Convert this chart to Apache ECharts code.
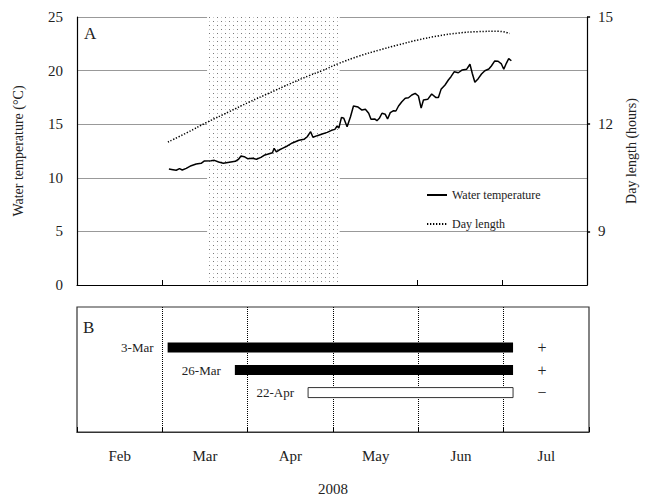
<!DOCTYPE html>
<html>
<head>
<meta charset="utf-8">
<script src="https://cdn.jsdelivr.net/npm/echarts@6/dist/echarts.min.js"></script>
<style>html,body{margin:0;padding:0;background:#fff}#c{width:646px;height:497px}</style>
</head>
<body>
<div id="c"></div>
<script>
// x positions are in months since 1 Feb 2008 (0 = 1 Feb, 1 = 1 Mar, ...)
const months = ['Feb', 'Mar', 'Apr', 'May', 'Jun', 'Jul'];
const leftTicks = [0, 5, 10, 15, 20, 25];
const rightTicks = [9, 12, 15];

const tempX = [1.081,1.128,1.167,1.206,1.238,1.285,1.343,1.402,1.460,1.499,1.577,1.616,1.666,1.721,1.792,1.862,1.900,1.929,1.967,2.006,2.064,2.111,2.163,2.201,2.240,2.299,2.319,2.345,2.377,2.416,2.474,2.533,2.611,2.670,2.708,2.748,2.775,2.826,2.884,2.943,2.994,3.033,3.060,3.080,3.111,3.138,3.177,3.217,3.252,3.306,3.352,3.392,3.431,3.458,3.501,3.528,3.556,3.587,3.626,3.653,3.685,3.724,3.751,3.782,3.821,3.861,3.899,3.938,3.978,4.016,4.048,4.075,4.125,4.172,4.219,4.251,4.282,4.329,4.368,4.399,4.438,4.485,4.532,4.582,4.622,4.649,4.680,4.719,4.758,4.797,4.844,4.874,4.914,4.953,4.992,5.020,5.050,5.078,5.109];
const tempY = [10.82,10.76,10.70,10.85,10.73,10.88,11.13,11.29,11.35,11.57,11.60,11.63,11.47,11.35,11.45,11.54,11.73,12.03,11.97,11.78,11.82,11.73,11.91,12.10,12.19,12.34,12.75,12.41,12.59,12.75,12.97,13.25,13.50,13.59,13.83,14.30,13.78,13.93,14.09,14.24,14.43,14.52,14.83,14.65,15.64,15.55,14.77,15.70,16.70,16.60,16.32,16.39,16.02,15.46,15.49,15.33,15.55,16.02,15.92,15.49,16.08,16.26,16.23,16.70,17.10,17.42,17.47,17.72,17.88,17.63,16.50,17.26,17.32,17.82,17.50,17.50,18.25,18.66,19.12,19.43,19.90,19.80,20.06,20.12,20.59,19.75,18.91,19.25,19.68,19.99,20.15,20.43,20.90,20.87,20.62,20.12,20.68,21.11,20.92];

const dayX = [1.069,1.30,1.526,1.79,2.026,2.26,2.494,2.73,2.884,3.08,3.31,3.548,3.78,4.016,4.25,4.485,4.72,4.95,5.09];
const dayY = [11.50,11.77,12.05,12.35,12.62,12.87,13.12,13.36,13.50,13.70,13.90,14.07,14.22,14.36,14.47,14.55,14.59,14.60,14.54];

const shadeStart = 1.53;
const shadeEnd = 3.09;

const barLabels = ['3-Mar', '26-Mar', '22-Apr'];
const barStart = [1.062, 1.85, 2.708];
const barEnd = [5.11, 5.11, 5.11];
const barRow = [1, 2, 3];
const barFilled = [1, 1, 0];
const barSign = ['+', '+', '\u2212'];

const SERIF = '"Liberation Serif", "DejaVu Serif", serif';
const TXT = '#222';

// dotted fill pattern
const pc = document.createElement('canvas');
pc.width = 8; pc.height = 8;
const pctx = pc.getContext('2d');
pctx.fillStyle = '#fff'; pctx.fillRect(0,0,8,8);
pctx.fillStyle = '#777'; pctx.fillRect(1,1,1,1); pctx.fillRect(5,5,1,1);
pctx.fillStyle = '#c8c8c8'; pctx.fillRect(5,1,1,1); pctx.fillRect(1,5,1,1);
const patternURL = pc.toDataURL();

const tempData = tempX.map((x, i) => [x, tempY[i]]);
const dayData = dayX.map((x, i) => [x, dayY[i]]);
const barData = barStart.map((s, i) => [s, barEnd[i], barRow[i], barFilled[i]]);

const chart = echarts.init(document.getElementById('c'), null, {renderer: 'svg'});
chart.setOption({
  animation: false,
  textStyle: {fontFamily: SERIF, color: TXT},
  grid: [
    {left: 77, right: 57, top: 17, bottom: 212},
    {left: 77, right: 57, top: 307, bottom: 64, show: true, borderColor: '#333', borderWidth: 1.2, backgroundColor: 'transparent'}
  ],
  legend: {
    orient: 'vertical', left: 421, top: 184, itemWidth: 20, itemHeight: 10, itemGap: 17,
    itemStyle: {color: 'rgba(0,0,0,0)', borderColor: 'rgba(0,0,0,0)', borderWidth: 0},
    textStyle: {fontFamily: SERIF, fontSize: 12, color: TXT},
    data: ['Water temperature', 'Day length']
  },
  xAxis: [
    {type: 'value', gridIndex: 0, min: 0, max: 6, interval: 1,
     axisLine: {show: true, onZero: false, lineStyle: {color: '#000', width: 1.2}},
     axisTick: {show: true, inside: true, length: 5, lineStyle: {color: '#000'}},
     axisLabel: {show: false}, splitLine: {show: false}},
    {type: 'value', gridIndex: 1, min: 0, max: 6, interval: 1,
     axisLine: {show: true, onZero: false, lineStyle: {color: '#333', width: 1.2}},
     axisTick: {show: true, inside: true, length: 5, lineStyle: {color: '#000'}},
     axisLabel: {show: false},
     splitLine: {show: true, showMinLine: false, showMaxLine: false, lineStyle: {color: '#000', type: [1, 1], width: 1}}},
    {type: 'category', gridIndex: 1, data: months, boundaryGap: true, position: 'bottom',
     axisLine: {show: false, onZero: false}, axisTick: {show: false}, splitLine: {show: false},
     axisLabel: {fontFamily: SERIF, fontSize: 15, color: TXT, margin: 16},
     name: '2008', nameLocation: 'middle', nameGap: 49,
     nameTextStyle: {fontFamily: SERIF, fontSize: 15, color: TXT}}
  ],
  yAxis: [
    {type: 'value', gridIndex: 0, min: 0, max: 25, interval: 5,
     axisLine: {show: true, lineStyle: {color: '#000', width: 1.2}},
     axisTick: {show: false},
     axisLabel: {fontFamily: SERIF, fontSize: 15, color: TXT, margin: 14},
     splitLine: {show: true, lineStyle: {color: '#999', width: 1.2}},
     name: 'Water temperature (\u00B0C)', nameLocation: 'middle', nameGap: 52,
     nameTextStyle: {fontFamily: SERIF, fontSize: 14, color: TXT}},
    {type: 'value', gridIndex: 0, min: 7.5, max: 15, position: 'right',
     axisLine: {show: true, lineStyle: {color: '#000', width: 1.2}},
     axisTick: {show: true, length: 3, customValues: rightTicks, lineStyle: {color: '#000', width: 1.5}},
     axisLabel: {customValues: rightTicks, fontFamily: SERIF, fontSize: 15, color: TXT, margin: 11},
     splitLine: {show: false},
     name: 'Day length (hours)', nameLocation: 'middle', nameGap: 36,
     nameTextStyle: {fontFamily: SERIF, fontSize: 14, color: TXT}},
    {type: 'value', gridIndex: 1, min: -0.8, max: 4.75, inverse: true, show: false}
  ],
  graphic: [
    {type: 'text', left: 84, top: 25, style: {text: 'A', font: '17px ' + SERIF, fill: TXT}},
    {type: 'text', left: 83, top: 319, style: {text: 'B', font: '17px ' + SERIF, fill: TXT}}
  ],
  series: [
    {name: 'Water temperature', type: 'line', xAxisIndex: 0, yAxisIndex: 0, data: tempData,
     symbol: 'none', lineStyle: {color: '#000', width: 1.5}, itemStyle: {color: '#000'}, z: 3,
     markArea: {silent: true,
       itemStyle: {color: {image: patternURL, repeat: 'repeat'}},
       data: [[{xAxis: shadeStart}, {xAxis: shadeEnd}]]}},
    {name: 'Day length', type: 'line', xAxisIndex: 0, yAxisIndex: 1, data: dayData, smooth: true,
     symbol: 'none', lineStyle: {color: '#000', width: 1.5, type: [1.3, 1.7]}, itemStyle: {color: '#000'}, z: 3},
    {type: 'custom', xAxisIndex: 1, yAxisIndex: 2, data: barData,
     renderItem: function (params, api) {
       const s = api.value(0), e = api.value(1), r = api.value(2), f = api.value(3);
       const p0 = api.coord([s, r]);
       const p1 = api.coord([e, r]);
       const h = 10;
       return {type: 'group', children: [
         {type: 'rect', shape: {x: p0[0], y: p0[1] - h / 2, width: p1[0] - p0[0], height: h},
          style: f ? {fill: '#000'} : {fill: '#fff', stroke: '#333', lineWidth: 1}},
         {type: 'text', x: p0[0] - 14, y: p0[1],
          style: {text: barLabels[params.dataIndex], align: 'right', verticalAlign: 'middle', font: '13px ' + SERIF, fill: TXT}},
         {type: 'text', x: p1[0] + 29, y: p1[1],
          style: {text: barSign[params.dataIndex], align: 'center', verticalAlign: 'middle', font: '16px ' + SERIF, fill: TXT}}
       ]};
     }}
  ]
});
</script>
</body>
</html>
